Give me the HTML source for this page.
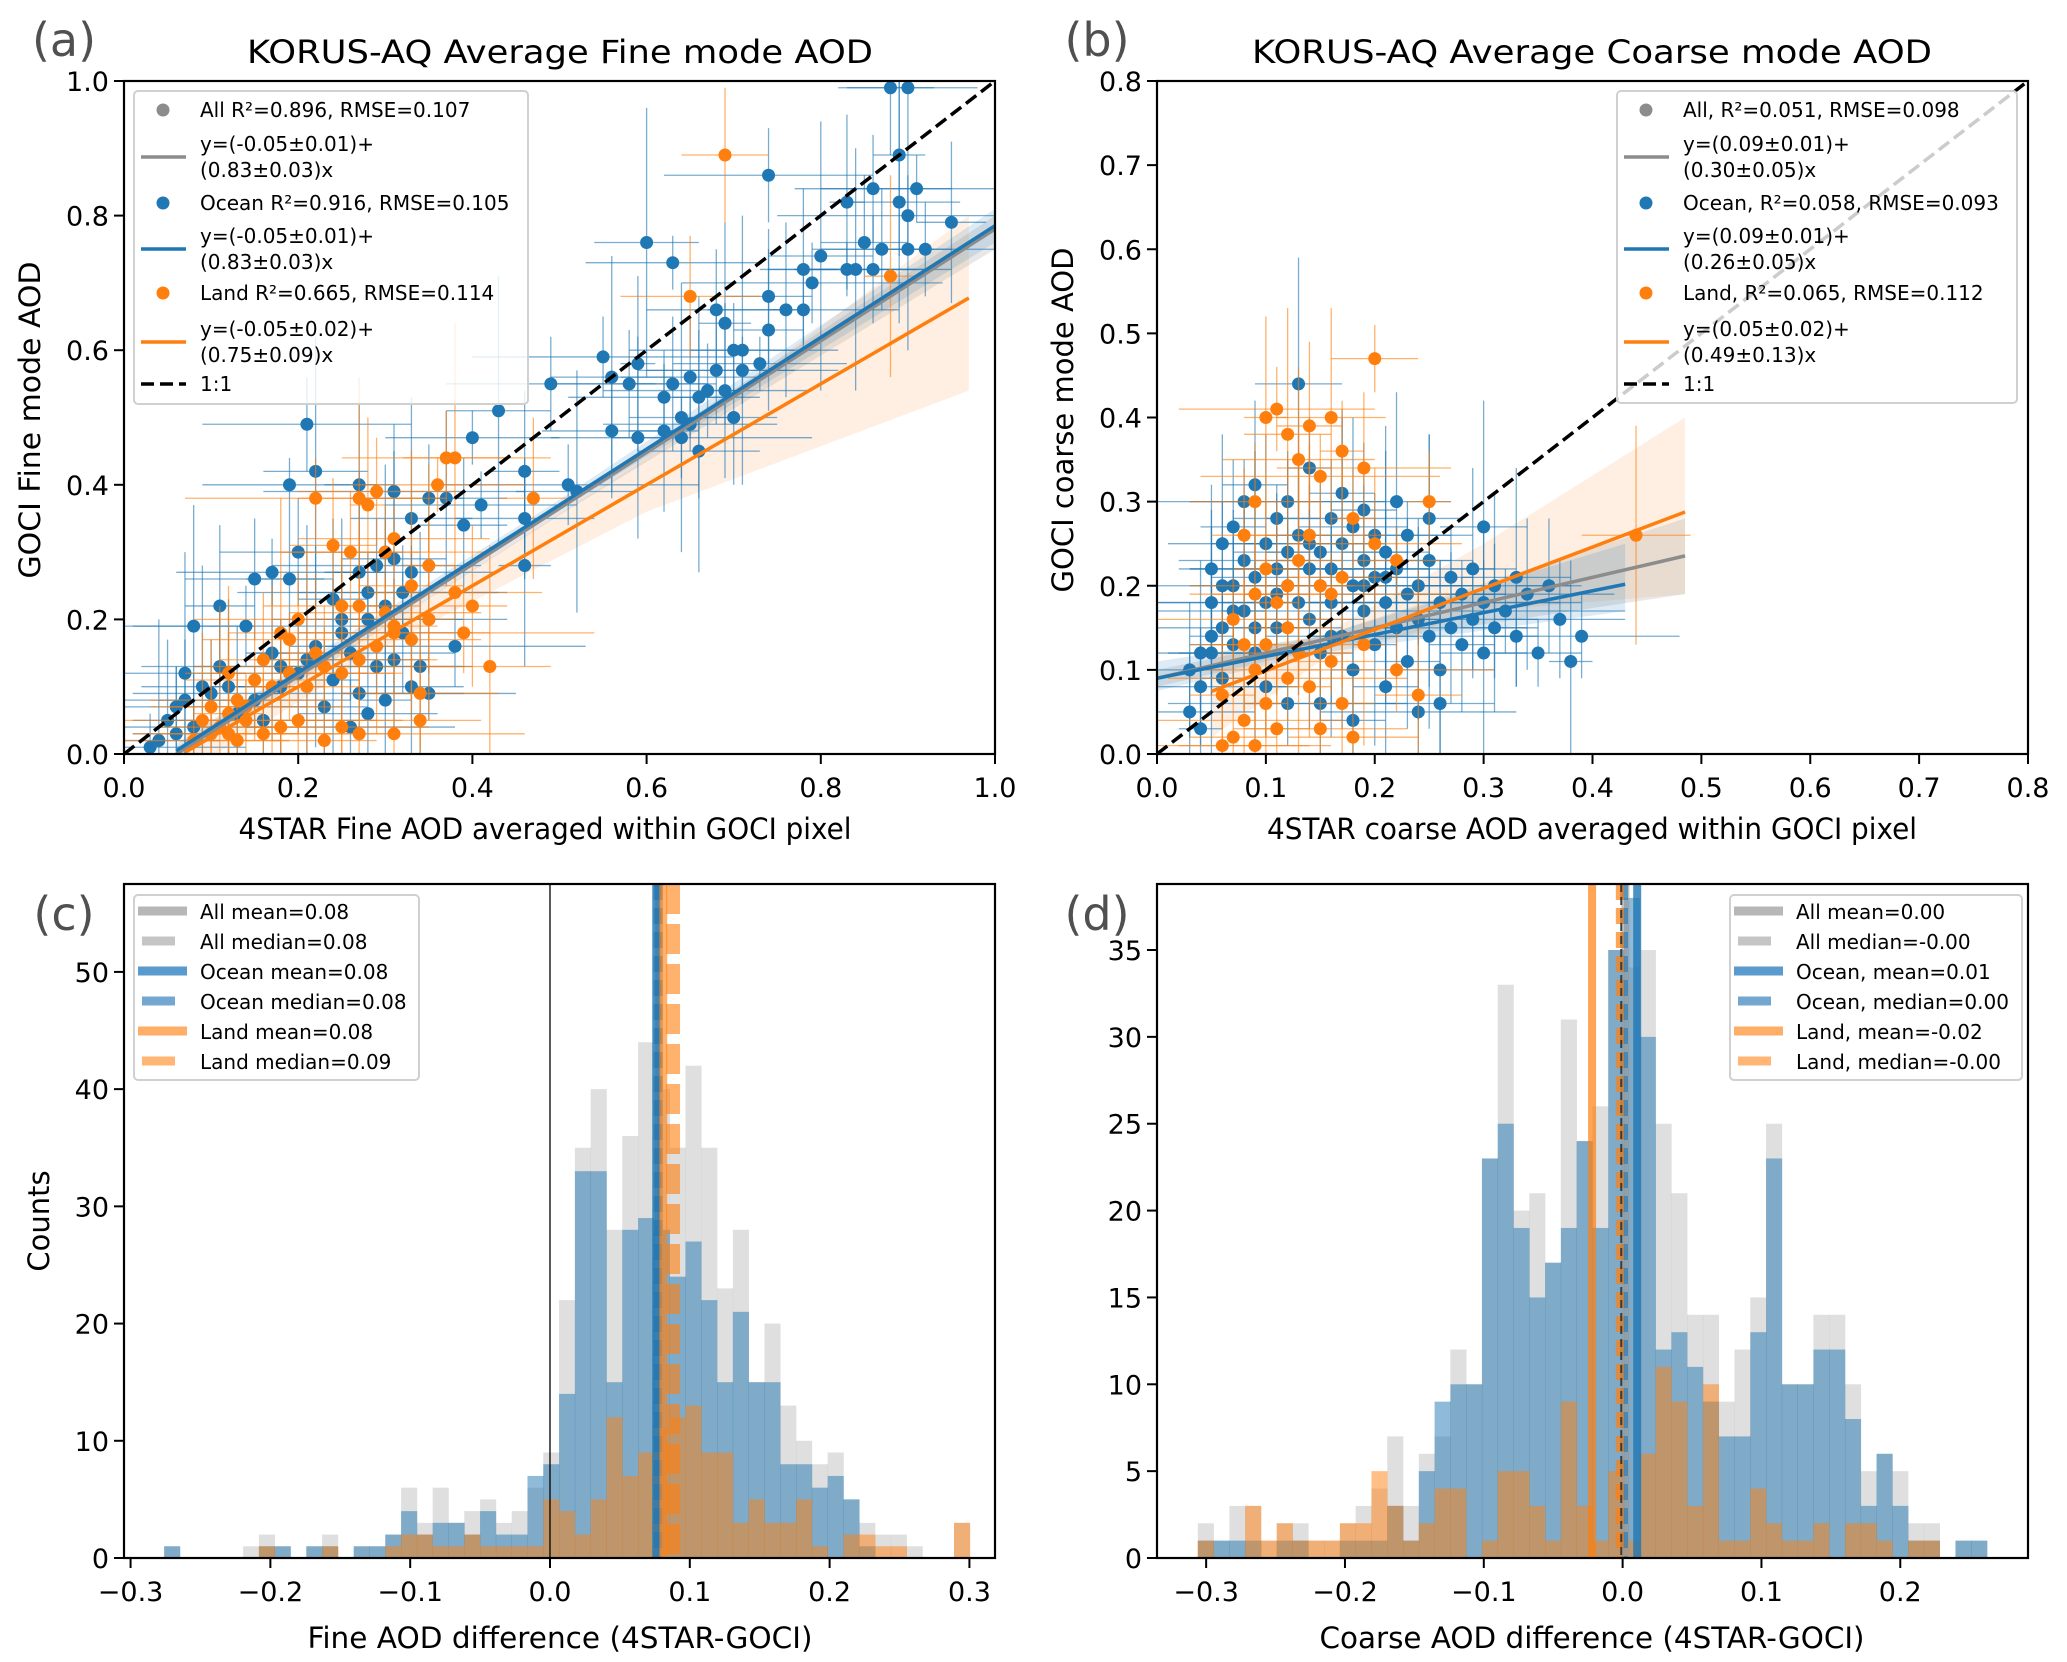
<!DOCTYPE html>
<html><head><meta charset="utf-8"><style>
html,body{margin:0;padding:0;background:#fff}
svg{display:block;font-family:"DejaVu Sans","Liberation Sans",sans-serif}
</style></head><body>
<svg id="fig" xmlns="http://www.w3.org/2000/svg" width="2067" height="1662" viewBox="0 0 2067 1662">
<rect width="2067" height="1662" fill="#fff"/>
<defs>
<clipPath id="clipA"><rect x="124" y="81" width="871" height="673"/></clipPath>
<clipPath id="clipB"><rect x="1157" y="81" width="871" height="673"/></clipPath>
<clipPath id="clipC"><rect x="124" y="884" width="871" height="674"/></clipPath>
<clipPath id="clipD"><rect x="1157" y="884" width="871" height="674"/></clipPath>
</defs>
<g id="root"></g>
</svg>
<script>
// ===== data: panel (a) =====
const oceanA = [[0.88,0.99],[0.90,0.99],[0.89,0.89],[0.74,0.86],[0.60,0.76],[0.63,0.73],[0.95,0.79],[0.90,0.80],[0.89,0.82],[0.86,0.84],[0.83,0.82],[0.91,0.84],[0.85,0.76],[0.87,0.75],[0.90,0.75],[0.92,0.75],[0.80,0.74],[0.83,0.72],[0.78,0.72],[0.79,0.70],[0.84,0.72],[0.86,0.72],[0.76,0.66],[0.78,0.66],[0.74,0.68],[0.68,0.66],[0.69,0.64],[0.70,0.60],[0.71,0.60],[0.73,0.58],[0.74,0.63],[0.55,0.59],[0.56,0.56],[0.58,0.55],[0.59,0.58],[0.62,0.53],[0.63,0.55],[0.65,0.56],[0.66,0.53],[0.67,0.54],[0.64,0.50],[0.65,0.49],[0.62,0.48],[0.64,0.47],[0.66,0.45],[0.68,0.57],[0.69,0.54],[0.71,0.57],[0.70,0.50],[0.56,0.48],[0.59,0.47],[0.49,0.55],[0.43,0.51],[0.40,0.47],[0.46,0.42],[0.51,0.40],[0.52,0.39],[0.35,0.38],[0.37,0.38],[0.41,0.37],[0.39,0.34],[0.46,0.35],[0.46,0.28],[0.21,0.49],[0.22,0.42],[0.19,0.40],[0.27,0.40],[0.31,0.39],[0.33,0.35],[0.20,0.30],[0.30,0.30],[0.17,0.27],[0.19,0.26],[0.15,0.26],[0.27,0.27],[0.29,0.28],[0.31,0.29],[0.33,0.27],[0.11,0.22],[0.14,0.19],[0.08,0.19],[0.35,0.20],[0.30,0.22],[0.28,0.20],[0.25,0.18],[0.32,0.18],[0.22,0.16],[0.26,0.15],[0.34,0.13],[0.29,0.13],[0.31,0.14],[0.38,0.16],[0.07,0.12],[0.10,0.09],[0.12,0.10],[0.15,0.08],[0.18,0.10],[0.20,0.12],[0.24,0.11],[0.27,0.09],[0.33,0.10],[0.35,0.09],[0.05,0.05],[0.06,0.07],[0.04,0.02],[0.08,0.04],[0.13,0.06],[0.16,0.05],[0.23,0.07],[0.28,0.06],[0.30,0.08],[0.26,0.04],[0.21,0.14],[0.18,0.13],[0.24,0.23],[0.28,0.24],[0.09,0.10],[0.11,0.13],[0.17,0.15],[0.03,0.01],[0.06,0.03],[0.07,0.08],[0.25,0.20],[0.32,0.24]];
const landA = [[0.69,0.89],[0.65,0.68],[0.88,0.71],[0.37,0.44],[0.38,0.44],[0.36,0.40],[0.47,0.38],[0.22,0.38],[0.27,0.38],[0.29,0.39],[0.28,0.37],[0.31,0.32],[0.24,0.31],[0.26,0.30],[0.35,0.28],[0.30,0.30],[0.33,0.25],[0.38,0.24],[0.40,0.22],[0.39,0.18],[0.42,0.13],[0.25,0.22],[0.27,0.22],[0.30,0.21],[0.31,0.19],[0.33,0.17],[0.35,0.20],[0.20,0.20],[0.18,0.18],[0.19,0.17],[0.22,0.15],[0.23,0.13],[0.25,0.12],[0.27,0.14],[0.29,0.16],[0.31,0.18],[0.16,0.14],[0.15,0.11],[0.17,0.10],[0.19,0.12],[0.21,0.10],[0.13,0.08],[0.12,0.06],[0.14,0.05],[0.11,0.04],[0.10,0.03],[0.09,0.05],[0.08,0.02],[0.13,0.02],[0.16,0.03],[0.18,0.04],[0.20,0.05],[0.23,0.02],[0.25,0.04],[0.27,0.03],[0.31,0.03],[0.34,0.05],[0.34,0.09],[0.12,0.12],[0.14,0.07],[0.10,0.07],[0.12,0.03]];
const xErrA = [0.05,0.08,0.03,0.12,0.06,0.10,0.04,0.15,0.07,0.09,0.02,0.11];
const yErrA = [0.10,0.06,0.15,0.08,0.20,0.05,0.12,0.09,0.18,0.07,0.13,0.04];
const fitA = {all:[-0.05,0.83,0.06,1.0], ocean:[-0.045,0.83,0.06,1.0], land:[-0.05,0.75,0.07,0.97]};
const bandA_all = [[0.06,-0.01,0.01],[0.5,0.355,0.37],[1.0,0.75,0.80]];
const bandA_ocean = [[0.06,-0.005,0.015],[0.5,0.362,0.378],[1.0,0.76,0.81]];
const bandA_land = [[0.07,-0.03,0.03],[0.3,0.16,0.19],[0.6,0.36,0.44],[0.97,0.54,0.80]];
// ===== data: panel (b) =====
const oceanB = [[0.03,0.10],[0.03,0.05],[0.04,0.03],[0.04,0.08],[0.05,0.12],[0.05,0.18],[0.05,0.22],[0.06,0.15],[0.06,0.25],[0.06,0.09],[0.07,0.20],[0.07,0.13],[0.07,0.27],[0.08,0.23],[0.08,0.17],[0.08,0.30],[0.09,0.21],[0.09,0.12],[0.09,0.32],[0.10,0.18],[0.10,0.25],[0.10,0.08],[0.11,0.22],[0.11,0.28],[0.11,0.15],[0.12,0.20],[0.12,0.24],[0.12,0.30],[0.13,0.44],[0.13,0.18],[0.13,0.26],[0.14,0.22],[0.14,0.16],[0.14,0.34],[0.15,0.24],[0.15,0.20],[0.15,0.12],[0.16,0.28],[0.16,0.18],[0.16,0.22],[0.17,0.25],[0.17,0.14],[0.17,0.31],[0.18,0.20],[0.18,0.27],[0.18,0.10],[0.19,0.23],[0.19,0.17],[0.19,0.29],[0.20,0.21],[0.20,0.13],[0.20,0.26],[0.21,0.24],[0.21,0.18],[0.21,0.08],[0.22,0.22],[0.22,0.30],[0.22,0.15],[0.23,0.19],[0.23,0.26],[0.23,0.11],[0.24,0.20],[0.24,0.16],[0.24,0.05],[0.25,0.23],[0.25,0.14],[0.25,0.28],[0.26,0.18],[0.26,0.10],[0.27,0.21],[0.27,0.15],[0.28,0.19],[0.28,0.13],[0.29,0.16],[0.29,0.22],[0.30,0.18],[0.30,0.12],[0.31,0.20],[0.31,0.15],[0.32,0.17],[0.33,0.21],[0.33,0.14],[0.34,0.19],[0.35,0.12],[0.36,0.20],[0.37,0.16],[0.38,0.11],[0.39,0.14],[0.30,0.27],[0.15,0.06],[0.18,0.04],[0.12,0.06],[0.26,0.06],[0.05,0.14],[0.07,0.17],[0.09,0.15],[0.11,0.19],[0.14,0.25],[0.16,0.14],[0.19,0.20],[0.21,0.21],[0.04,0.12],[0.06,0.20]];
const landB = [[0.08,0.26],[0.09,0.30],[0.10,0.40],[0.11,0.41],[0.12,0.38],[0.13,0.35],[0.14,0.39],[0.15,0.33],[0.16,0.40],[0.17,0.36],[0.19,0.34],[0.20,0.47],[0.10,0.22],[0.09,0.19],[0.11,0.18],[0.12,0.20],[0.13,0.23],[0.14,0.26],[0.15,0.20],[0.16,0.19],[0.17,0.21],[0.18,0.28],[0.20,0.25],[0.22,0.23],[0.08,0.13],[0.09,0.10],[0.10,0.06],[0.08,0.04],[0.07,0.02],[0.09,0.01],[0.11,0.03],[0.12,0.09],[0.13,0.12],[0.14,0.08],[0.15,0.03],[0.16,0.11],[0.17,0.06],[0.18,0.02],[0.19,0.13],[0.22,0.10],[0.24,0.07],[0.10,0.13],[0.06,0.07],[0.07,0.16],[0.44,0.26],[0.25,0.30],[0.06,0.01],[0.12,0.15]];
const xErrB = [0.03,0.06,0.02,0.09,0.04,0.07,0.03,0.11,0.05,0.02,0.08,0.04];
const yErrB = [0.08,0.05,0.12,0.06,0.15,0.04,0.10,0.07,0.13,0.05,0.09,0.11];
const fitB = {all:[0.09,0.30,0.0,0.485], ocean:[0.09,0.26,0.0,0.43], land:[0.05,0.49,0.05,0.485]};
const bandB_all = [[0.0,0.08,0.10],[0.15,0.125,0.14],[0.485,0.19,0.28]];
const bandB_ocean = [[0.0,0.075,0.11],[0.15,0.12,0.14],[0.43,0.17,0.25]];
const bandB_land = [[0.05,0.02,0.12],[0.15,0.11,0.14],[0.3,0.17,0.25],[0.485,0.19,0.40]];
// ===== data: panel (c) histograms =====
const binStartC = -0.276, binWidthC = 0.0113;
const allC   = [1,0,0,0,0,1,2,1,0,1,2,0,1,1,2,6,3,6,3,4,5,3,4,6,9,22,35,40,28,36,44,40,35,42,35,23,28,15,20,13,10,8,9,5,3,2,2,1,0,0,3];
const oceanC = [1,0,0,0,0,0,1,1,0,1,1,0,1,1,2,4,2,3,3,2,4,2,2,7,8,14,33,33,15,28,29,28,24,27,22,15,21,15,15,8,8,6,7,5,1,0,0,0,0,0,0];
const landC  = [0,0,0,0,0,0,1,0,0,0,1,0,0,0,1,2,2,1,1,2,1,1,1,1,5,4,2,5,12,7,9,11,12,13,9,9,3,5,3,3,5,1,0,2,2,1,1,0,0,0,3];
const vlinesC = {allMean:0.078, allMedian:0.078, oceanMean:0.076, oceanMedian:0.077, landMean:0.081, landMedian:0.088};
// ===== data: panel (d) histograms =====
const binStartD = -0.306, binWidthD = 0.01137;
const allD   = [2,1,3,3,1,2,2,1,1,2,3,4,7,3,6,7,12,10,23,33,20,21,17,31,24,26,35,34,35,25,21,14,14,9,12,15,25,10,10,14,14,10,5,6,5,2,2,0,1,1];
const oceanD = [1,1,1,1,0,1,1,0,0,1,1,1,3,1,5,9,10,10,23,25,19,15,17,19,24,19,35,38,30,12,13,11,9,7,7,13,23,10,10,12,12,8,3,6,3,1,1,0,1,1];
const landD  = [1,0,0,3,1,2,1,1,1,2,2,5,3,1,2,4,4,0,1,5,5,3,1,9,3,1,5,1,6,11,9,3,10,1,1,4,2,1,1,2,0,2,2,1,0,1,1,0,0,0];
const vlinesD = {allMean:0.002, allMedian:-0.001, oceanMean:0.0105, oceanMedian:0.001, landMean:-0.022, landMedian:-0.002};
// ===== ticks =====
const ticksA = [0,0.2,0.4,0.6,0.8,1.0], tickLabA = ["0.0","0.2","0.4","0.6","0.8","1.0"];
const ticksB = [0,0.1,0.2,0.3,0.4,0.5,0.6,0.7,0.8], tickLabB = ["0.0","0.1","0.2","0.3","0.4","0.5","0.6","0.7","0.8"];
const xticksC = [-0.3,-0.2,-0.1,0,0.1,0.2,0.3], xtickLabC = ["\u22120.3","\u22120.2","\u22120.1","0.0","0.1","0.2","0.3"];
const yticksC = [0,10,20,30,40,50], ytickLabC = ["0","10","20","30","40","50"];
const xticksD = [-0.3,-0.2,-0.1,0,0.1,0.2], xtickLabD = ["\u22120.3","\u22120.2","\u22120.1","0.0","0.1","0.2"];
const yticksD = [0,5,10,15,20,25,30,35], ytickLabD = ["0","5","10","15","20","25","30","35"];

const NS="http://www.w3.org/2000/svg";
const root=document.getElementById('root');
const BLUE="#1f77b4", ORANGE="#ff7f0e", GRAY="#8c8c8c";
function el(tag,attrs,parent){const e=document.createElementNS(NS,tag);for(const k in attrs)e.setAttribute(k,attrs[k]);(parent||root).appendChild(e);return e;}
function scale(d0,d1,p0,p1){return v=>p0+(v-d0)/(d1-d0)*(p1-p0);}
function mkPanel(l,r,t,b,xd,yd){return {l,r,t,b,x:scale(xd[0],xd[1],l,r),y:scale(yd[0],yd[1],b,t)};}
const PA=mkPanel(124,995,81,754,[0,1],[0,1]);
const PB=mkPanel(1157,2028,81,754,[0,0.8],[0,0.8]);
const PC=mkPanel(124,995,884,1558,[-0.3047,0.3183],[0,57.5]);
const PD=mkPanel(1157,2028,884,1558,[-0.3354,0.292],[0,38.8]);

function txt(s,x,y,size,anchor,parent,extra){const t=el('text',Object.assign({x:x,y:y,'font-size':size,'text-anchor':anchor||'start',fill:'#000'},extra||{}),parent);t.textContent=s;return t;}

function axes(P,xt,xl,yt,yl,name){
  const g=el('g',{});
  
  
  el('rect',{x:P.l,y:P.t,width:P.r-P.l,height:P.b-P.t,fill:'none',stroke:'#000','stroke-width':2.2},g);
  xt.forEach((v,i)=>{const X=P.x(v);el('line',{x1:X,x2:X,y1:P.b,y2:P.b+10,stroke:'#000','stroke-width':2},g);
    const t=txt(xl[i],X,P.b+43,27,'middle',g);
    
    });
  yt.forEach((v,i)=>{const Y=P.y(v);el('line',{x1:P.l-10,x2:P.l,y1:Y,y2:Y,stroke:'#000','stroke-width':2},g);
    const t=txt(yl[i],P.l-15,Y+10,27,'end',g);
    
    });
}
function band(P,pts,color,op,clip){
  let d='M'+pts.map(p=>P.x(p[0])+','+P.y(p[2])).join('L');
  d+='L'+pts.slice().reverse().map(p=>P.x(p[0])+','+P.y(p[1])).join('L')+'Z';
  const e=el('path',{d:d,fill:color,opacity:op,'clip-path':clip});
  
  
}
function fitLine(P,f,color,clip,name){
  const e=el('line',{x1:P.x(f[2]),y1:P.y(f[0]+f[1]*f[2]),x2:P.x(f[3]),y2:P.y(f[0]+f[1]*f[3]),stroke:color,'stroke-width':3.5,'clip-path':clip});
  
  
}
function scatter(P,pts,xe,ye,color,clip,name){
  const g=el('g',{'clip-path':clip});
  
  
  pts.forEach((p,i)=>{const X=P.x(p[0]),Y=P.y(p[1]);const dx=xe[i%xe.length],dy=ye[(i*7)%ye.length];
    el('line',{x1:P.x(p[0]-dx),x2:P.x(p[0]+dx),y1:Y,y2:Y,stroke:color,'stroke-width':1.3,opacity:0.6},g);
    el('line',{x1:X,x2:X,y1:P.y(p[1]-dy),y2:P.y(p[1]+dy),stroke:color,'stroke-width':1.3,opacity:0.6},g);});
  pts.forEach(p=>{const c=el('circle',{cx:P.x(p[0]),cy:P.y(p[1]),r:6.5,fill:color},g);
    
    });
}
function scatterLegend(x0,y0,w,h,rows,name){
  const g=el('g',{});
  
  
  el('rect',{x:x0,y:y0,width:w,height:h,rx:4,fill:'#fff','fill-opacity':0.8,stroke:'#d0d0d0','stroke-width':2},g);
  const mx=x0+29, lx0=x0+7, lx1=x0+52, tx=x0+66;
  const items=[
    ['dot',GRAY,[rows[0]],110],['line',GRAY,[rows[1],rows[2]],157],
    ['dot',BLUE,[rows[3]],203],['line',BLUE,[rows[4],rows[5]],249],
    ['dot',ORANGE,[rows[6]],293],['line',ORANGE,[rows[7],rows[8]],342],
    ['dash','#000',['1:1'],384]];
  items.forEach(it=>{const yc=it[3];
    if(it[0]==='dot')el('circle',{cx:mx,cy:yc,r:6.5,fill:it[1]},g);
    else if(it[0]==='line')el('line',{x1:lx0,x2:lx1,y1:yc,y2:yc,stroke:it[1],'stroke-width':3.5},g);
    else el('line',{x1:lx0,x2:lx1,y1:yc,y2:yc,stroke:'#000','stroke-width':3.5,'stroke-dasharray':'13,6'},g);
    if(it[2].length===1){const t=el('text',{x:tx,y:yc+7,'font-size':20,fill:'#000'},g);t.textContent=it[2][0];}
    else{[[it[2][0],yc-13],[it[2][1],yc+13]].forEach(q=>{const t=el('text',{x:tx,y:q[1]+7,'font-size':20,fill:'#000'},g);t.textContent=q[0];});}
  });
}
function hist(P,start,w,counts,color,op,clip,name){
  const g=el('g',{'clip-path':clip});
  
  
  counts.forEach((c,i)=>{if(c<=0)return;const x0=P.x(start+i*w),x1=P.x(start+(i+1)*w);
    const r=el('rect',{x:x0,y:P.y(c),width:x1-x0+0.3,height:P.y(0)-P.y(c),fill:color,opacity:op},g);
    
    });
}
function vline(P,v,color,op,dash,clip,name,wd){
  const e=el('line',{x1:P.x(v),x2:P.x(v),y1:P.t,y2:P.b,stroke:color,'stroke-width':wd||8,opacity:op,'stroke-dasharray':dash||'none','clip-path':clip});
  
  
}
function histLegend(x0,y0,w,h,labels,name){
  const g=el('g',{});
  
  
  el('rect',{x:x0,y:y0,width:w,height:h,rx:4,fill:'#fff','fill-opacity':0.8,stroke:'#d0d0d0','stroke-width':2},g);
  const cols=['#aaaaaa','#bbbbbb','#3d88c3','#5b98c8','#ffa04d','#ffa85c'];
  const ys=[911,941,971,1001,1031,1061];
  labels.forEach((s,i)=>{const y=ys[i];const solid=i%2===0;
    el('rect',{x:x0+(solid?4:8),y:y-4.5,width:solid?49:33,height:9,fill:cols[i],opacity:0.85},g);
    txt(s,x0+66,y+8,20,'start',g);});
}

// ===== Panel (a) =====
band(PA,bandA_land,ORANGE,0.12,'url(#clipA)');
band(PA,bandA_all,GRAY,0.2,'url(#clipA)');
band(PA,bandA_ocean,BLUE,0.15,'url(#clipA)');
scatter(PA,oceanA,xErrA,yErrA,BLUE,'url(#clipA)','ocean-points-a');
scatter(PA,landA,xErrA,yErrA,ORANGE,'url(#clipA)','land-points-a');
fitLine(PA,fitA.all,'#8c8c8c','url(#clipA)','fit-all-a');
fitLine(PA,fitA.ocean,BLUE,'url(#clipA)','fit-ocean-a');
fitLine(PA,fitA.land,ORANGE,'url(#clipA)','fit-land-a');
(function(){const e=el('line',{x1:PA.x(0),y1:PA.y(0),x2:PA.x(1),y2:PA.y(1),stroke:'#000','stroke-width':3.5,'stroke-dasharray':'13,6'});

})();
scatterLegend(134,91,394,313,['All R\u00b2=0.896, RMSE=0.107','y=(-0.05\u00b10.01)+','(0.83\u00b10.03)x','Ocean R\u00b2=0.916, RMSE=0.105','y=(-0.05\u00b10.01)+','(0.83\u00b10.03)x','Land R\u00b2=0.665, RMSE=0.114','y=(-0.05\u00b10.02)+','(0.75\u00b10.09)x'],'legend-a');
axes(PA,ticksA,tickLabA,ticksA,tickLabA,'panel-a');

// ===== Panel (b) =====
band(PB,bandB_land,ORANGE,0.12,'url(#clipB)');
band(PB,bandB_all,GRAY,0.2,'url(#clipB)');
band(PB,bandB_ocean,BLUE,0.15,'url(#clipB)');
scatter(PB,oceanB,xErrB,yErrB,BLUE,'url(#clipB)','ocean-points-b');
scatter(PB,landB,xErrB,yErrB,ORANGE,'url(#clipB)','land-points-b');
fitLine(PB,fitB.all,'#8c8c8c','url(#clipB)','fit-all-b');
fitLine(PB,fitB.ocean,BLUE,'url(#clipB)','fit-ocean-b');
fitLine(PB,fitB.land,ORANGE,'url(#clipB)','fit-land-b');
(function(){const e=el('line',{x1:PB.x(0),y1:PB.y(0),x2:PB.x(0.8),y2:PB.y(0.8),stroke:'#000','stroke-width':3.5,'stroke-dasharray':'13,6'});

})();
scatterLegend(1617,91,400,312,['All, R\u00b2=0.051, RMSE=0.098','y=(0.09\u00b10.01)+','(0.30\u00b10.05)x','Ocean, R\u00b2=0.058, RMSE=0.093','y=(0.09\u00b10.01)+','(0.26\u00b10.05)x','Land, R\u00b2=0.065, RMSE=0.112','y=(0.05\u00b10.02)+','(0.49\u00b10.13)x'],'legend-b');
axes(PB,ticksB,tickLabB,ticksB,tickLabB,'panel-b');

// ===== Panel (c) =====
hist(PC,binStartC,binWidthC,allC,'#b0b0b0',0.4,'url(#clipC)','hist-all-c');
hist(PC,binStartC,binWidthC,oceanC,BLUE,0.5,'url(#clipC)','hist-ocean-c');
hist(PC,binStartC,binWidthC,landC,ORANGE,0.5,'url(#clipC)','hist-land-c');
(function(){const e=el('line',{x1:PC.x(0),x2:PC.x(0),y1:PC.t,y2:PC.b,stroke:'#000','stroke-width':1.3});

})();
vline(PC,vlinesC.allMean,'#999',0.6,null,'url(#clipC)','all-mean-c');
vline(PC,vlinesC.allMedian,'#999',0.6,'16,8','url(#clipC)','all-median-c');
vline(PC,vlinesC.oceanMean,BLUE,0.8,null,'url(#clipC)','ocean-mean-c');
vline(PC,vlinesC.oceanMedian,BLUE,0.6,'16,8','url(#clipC)','ocean-median-c');
vline(PC,vlinesC.landMean,ORANGE,0.6,null,'url(#clipC)','land-mean-c');
vline(PC,vlinesC.landMedian,ORANGE,0.6,'30,10','url(#clipC)','land-median-c',14);
histLegend(134,895,285,185,['All mean=0.08','All median=0.08','Ocean mean=0.08','Ocean median=0.08','Land mean=0.08','Land median=0.09'],'legend-c');
axes(PC,xticksC,xtickLabC,yticksC,ytickLabC,'panel-c');

// ===== Panel (d) =====
hist(PD,binStartD,binWidthD,allD,'#b0b0b0',0.4,'url(#clipD)','hist-all-d');
hist(PD,binStartD,binWidthD,oceanD,BLUE,0.5,'url(#clipD)','hist-ocean-d');
hist(PD,binStartD,binWidthD,landD,ORANGE,0.5,'url(#clipD)','hist-land-d');
vline(PD,vlinesD.allMean,'#999',0.6,null,'url(#clipD)','all-mean-d');
vline(PD,vlinesD.oceanMean,BLUE,0.8,null,'url(#clipD)','ocean-mean-d');
vline(PD,vlinesD.oceanMedian,BLUE,0.6,'16,8','url(#clipD)','ocean-median-d');
vline(PD,vlinesD.landMean,ORANGE,0.7,null,'url(#clipD)','land-mean-d');
vline(PD,vlinesD.landMedian,ORANGE,0.7,'16,8','url(#clipD)','land-median-d');
vline(PD,vlinesD.allMedian,'#333',0.9,'8,5','url(#clipD)','all-median-d',2);
histLegend(1730,895,292,185,['All mean=0.00','All median=-0.00','Ocean, mean=0.01','Ocean, median=0.00','Land, mean=-0.02','Land, median=-0.00'],'legend-d');
axes(PD,xticksD,xtickLabD,yticksD,ytickLabD,'panel-d');

// ===== titles & labels =====
function label(s,x,y,size,name,opts){const t=txt(s,x,y,size,'middle',root,opts||{});
  
  return t;}
label('KORUS-AQ Average Fine mode AOD',560,63,32,'title-a',{textLength:626,lengthAdjust:'spacingAndGlyphs'});
label('KORUS-AQ Average Coarse mode AOD',1592,63,32,'title-b',{textLength:680,lengthAdjust:'spacingAndGlyphs'});
label('(a)',64,56,46,'panel-letter-a',{fill:'#505050'});
label('(b)',1097,56,46,'panel-letter-b',{fill:'#505050'});
label('(c)',64,930,46,'panel-letter-c',{fill:'#505050'});
label('(d)',1097,930,46,'panel-letter-d',{fill:'#505050'});
label('4STAR Fine AOD averaged within GOCI pixel',545,839,29,'x-axis-title-a',{textLength:613,lengthAdjust:'spacingAndGlyphs'});
label('4STAR coarse AOD averaged within GOCI pixel',1592,839,29,'x-axis-title-b',{textLength:650,lengthAdjust:'spacingAndGlyphs'});
label('Fine AOD difference (4STAR-GOCI)',560,1648,29,'x-axis-title-c',{textLength:505,lengthAdjust:'spacingAndGlyphs'});
label('Coarse AOD difference (4STAR-GOCI)',1592,1648,29,'x-axis-title-d',{textLength:545,lengthAdjust:'spacingAndGlyphs'});
label('GOCI Fine mode AOD',0,0,29,'y-axis-title-a',{transform:'translate(40,420) rotate(-90)',textLength:317,lengthAdjust:'spacingAndGlyphs'});
label('GOCI coarse mode AOD',0,0,29,'y-axis-title-b',{transform:'translate(1073,420) rotate(-90)',textLength:345,lengthAdjust:'spacingAndGlyphs'});
label('Counts',0,0,29,'y-axis-title-c',{transform:'translate(49,1221) rotate(-90)'});
</script>
</body></html>
